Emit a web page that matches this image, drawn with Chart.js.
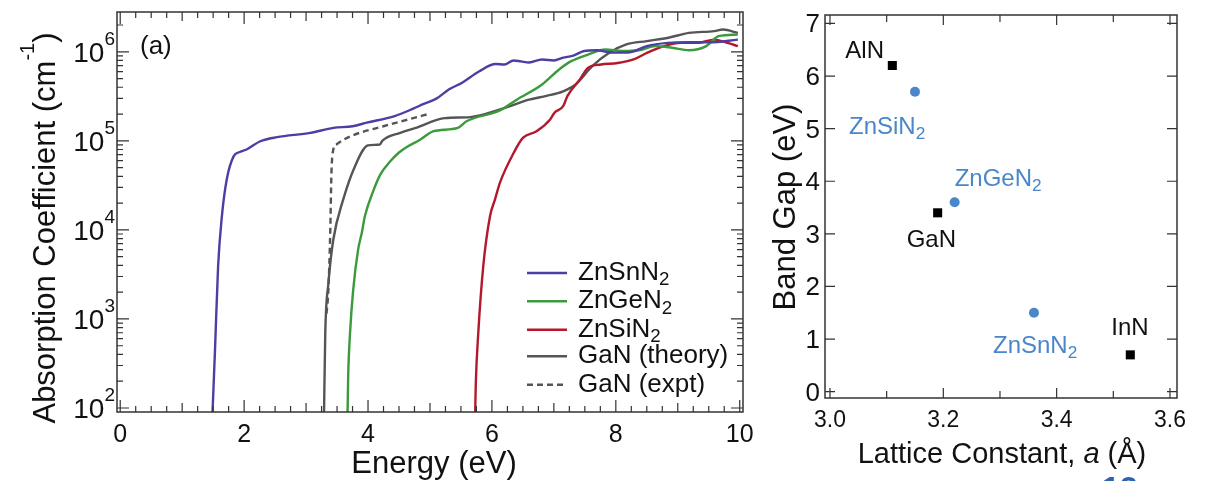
<!DOCTYPE html>
<html><head><meta charset="utf-8">
<script src="https://cdn.jsdelivr.net/npm/chart.js@4.4.1/dist/chart.umd.min.js"></script>
<style>
html,body{margin:0;padding:0;background:#fff;}
#wrap{position:relative;width:1205px;height:481px;overflow:hidden;background:#fff;}
#c1{position:absolute;left:0;top:0;}
#c2{position:absolute;left:760px;top:0;}
</style></head><body>
<div id="wrap"><canvas id="c1" width="760" height="481"></canvas><canvas id="c2" width="445" height="481"></canvas></div>
<script>
// ---------- Panel (a): absorption spectra ----------
const seriesNames = ['ZnSnN₂', 'ZnGeN₂', 'ZnSiN₂', 'GaN (theory)', 'GaN (expt)'];

const energyZnSn = [1.49,1.53,1.58,1.64,1.72,1.83,1.93,2.04,2.26,2.53,3.07,3.44,3.75,3.98,4.43,4.73,4.90,5.11,5.31,5.52,5.79,6.06,6.20,6.35,6.47,6.60,6.81,7.00,7.15,7.30,7.49,7.69,7.96,8.23,8.50,8.84,9.18,9.52,9.97];
const absZnSn    = [90,4.5e2,3.9e3,1.4e4,3.7e4,6.7e4,7.5e4,8.0e4,9.9e4,1.1e5,1.23e5,1.4e5,1.46e5,1.6e5,1.9e5,2.3e5,2.6e5,3.0e5,3.8e5,4.5e5,6.0e5,7.3e5,7.2e5,8.0e5,7.8e5,7.6e5,8.2e5,8.0e5,8.6e5,9.0e5,1.02e6,1.04e6,9.8e5,9.9e5,1.16e6,1.26e6,1.28e6,1.28e6,1.37e6];

const energyZnGe = [3.67,3.68,3.71,3.76,3.84,3.90,3.95,4.09,4.20,4.36,4.50,4.62,4.84,5.05,5.45,5.59,6.13,6.40,6.81,7.08,7.28,7.55,7.83,8.10,8.37,8.64,8.91,9.18,9.46,9.66,9.97];
const absZnGe    = [90,2.3e2,7.0e2,2.1e3,6.0e3,9.3e3,1.43e4,2.8e4,4.2e4,5.9e4,7.4e4,8.5e4,1.03e5,1.28e5,1.4e5,1.66e5,2.2e5,2.9e5,4.3e5,6.3e5,7.85e5,9.3e5,1.06e6,1.02e6,1.04e6,1.16e6,1.11e6,1.04e6,1.16e6,1.5e6,1.56e6];

const energyZnSi = [5.73,5.74,5.78,5.86,5.97,6.05,6.13,6.35,6.50,6.72,6.94,7.01,7.15,7.22,7.42,7.55,7.76,8.03,8.30,8.51,8.78,9.05,9.32,9.59,9.80,9.97];
const absZnSi    = [90,1.9e2,7.0e2,3.9e3,1.43e4,2.2e4,3.4e4,7.3e4,1.08e5,1.28e5,1.74e5,2.07e5,2.45e5,3.2e5,4.9e5,6.6e5,7.2e5,7.5e5,8.3e5,9.8e5,1.16e6,1.26e6,1.26e6,1.37e6,1.26e6,1.16e6];

const energyGaNth = [3.29,3.31,3.36,3.44,3.60,3.79,4.00,4.19,4.23,4.52,4.77,5.24,5.65,6.13,6.60,6.88,7.15,7.35,7.62,7.90,8.17,8.50,8.85,9.18,9.59,9.73,9.97];
const absGaNth    = [90,7.0e2,2.5e3,7.8e3,2.2e4,5.2e4,8.9e4,9.1e4,1.0e5,1.23e5,1.4e5,1.8e5,1.85e5,2.25e5,2.9e5,3.2e5,3.6e5,4.3e5,6.9e5,9.8e5,1.21e6,1.32e6,1.44e6,1.63e6,1.71e6,1.78e6,1.63e6];

const energyGaNex = [3.33,3.36,3.39,3.41,3.44,3.49,3.71,4.25,4.73,4.95];
const absGaNex    = [1.15e3,2.1e3,9.3e3,4.4e4,8.0e4,9.1e4,1.12e5,1.46e5,1.8e5,1.98e5];

const energyTicks = [0,2,4,6,8,10];
const absDecades = [2,3,4,5,6];

// ---------- Panel (b): band gap vs lattice constant ----------
const nitrideNames = ['AlN','GaN','InN'];
const nitrideLattice = [3.11,3.19,3.53];
const nitrideGap = [6.2,3.4,0.7];
const zincNames = ['ZnSiN₂','ZnGeN₂','ZnSnN₂'];
const zincLattice = [3.15,3.22,3.36];
const zincGap = [5.7,3.6,1.5];
const latticeTicks = [3.0,3.2,3.4,3.6];
const gapTicks = [0,1,2,3,4,5,6,7];

// ---------- styles ----------
const FONT = '"Liberation Sans", Arial, Helvetica, sans-serif';
const font = (s, st) => (st ? st + ' ' : '') + s + 'px ' + FONT;
const lineColors = ['#4a3fa2', '#3a9a3c', '#b3192c', '#555555', '#555555'];
const blueLabel = '#4a87c9';
const frameColor = '#333333';
const nitrideLabelOffsets = [[-47,-8],[-31,34],[-19,-20]];
const zincLabelOffsets = [[-66,42],[0,-16],[-41,40]];

function drawRich(ctx, text, x, y, size, color, align) {
  const segs = []; let cur = '';
  for (const ch of text) {
    if (ch === '₂') { if (cur) segs.push({t: cur, sub: false}); segs.push({t: '2', sub: true}); cur = ''; }
    else cur += ch;
  }
  if (cur) segs.push({t: cur, sub: false});
  ctx.fillStyle = color; ctx.textAlign = 'left'; ctx.textBaseline = 'alphabetic';
  const widths = segs.map(s => { ctx.font = font(s.sub ? size * 0.72 : size); return ctx.measureText(s.t).width; });
  const total = widths.reduce((a, b) => a + b, 0);
  let cx = align === 'center' ? x - total / 2 : x;
  segs.forEach((s, i) => {
    ctx.font = font(s.sub ? size * 0.72 : size);
    ctx.fillText(s.t, cx, y + (s.sub ? size * 0.2 : 0));
    cx += widths[i];
  });
}

function pts(xs, ys) { return xs.map((x, i) => ({x: x, y: ys[i]})); }

const seriesData = [
  pts(energyZnSn, absZnSn), pts(energyZnGe, absZnGe), pts(energyZnSi, absZnSi),
  pts(energyGaNth, absGaNth), pts(energyGaNex, absGaNex)
];

const leftPlugin = {
  id: 'leftDecor',
  afterDraw(chart) {
    const ctx = chart.ctx, a = chart.chartArea, xs = chart.scales.x, ys = chart.scales.y;
    ctx.save();
    ctx.strokeStyle = frameColor; ctx.lineWidth = 1.5;
    ctx.strokeRect(a.left, a.top, a.right - a.left, a.bottom - a.top);
    ctx.lineWidth = 1.2;
    ctx.beginPath();
    for (let i = 0; i <= 40; i++) {
      const v = i * 0.25;
      const px = xs.getPixelForValue(v);
      const len = (i % 8 === 0) ? 12 : (i % 4 === 0 ? 9 : 6);
      ctx.moveTo(px, a.bottom); ctx.lineTo(px, a.bottom - len);
      ctx.moveTo(px, a.top); ctx.lineTo(px, a.top + len);
    }
    for (let d = 1; d <= 6; d++) {
      for (let m = 1; m <= 9; m++) {
        const v = m * Math.pow(10, d);
        if (v < ys.min || v > ys.max) continue;
        const py = ys.getPixelForValue(v);
        const len = m === 1 ? 12 : 6;
        ctx.moveTo(a.left, py); ctx.lineTo(a.left + len, py);
        ctx.moveTo(a.right, py); ctx.lineTo(a.right - len, py);
      }
    }
    ctx.stroke();
    // x tick labels
    ctx.fillStyle = '#111'; ctx.font = font(25); ctx.textAlign = 'center'; ctx.textBaseline = 'alphabetic';
    energyTicks.forEach(v => ctx.fillText(String(v), xs.getPixelForValue(v), 442));
    // y tick labels 10^n
    absDecades.forEach(d => {
      const py = ys.getPixelForValue(Math.pow(10, d));
      ctx.font = font(19); const ew = ctx.measureText(String(d)).width;
      ctx.textAlign = 'left';
      ctx.fillText(String(d), 115 - ew, py - 7);
      ctx.font = font(28); ctx.textAlign = 'right';
      ctx.fillText('10', 115 - ew, py + 10);
    });
    // axis titles
    ctx.font = font(31); ctx.textAlign = 'center';
    ctx.fillText('Energy (eV)', 434, 473);
    ctx.save();
    ctx.translate(55, 228); ctx.rotate(-Math.PI / 2);
    const p1 = 'Absorption Coefficient (cm', p2 = '-1', p3 = ')';
    ctx.font = font(31); const w1 = ctx.measureText(p1).width, w3 = ctx.measureText(p3).width;
    ctx.font = font(20); const w2 = ctx.measureText(p2).width;
    let sx = -(w1 + w2 + w3) / 2;
    ctx.textAlign = 'left';
    ctx.font = font(31); ctx.fillText(p1, sx, 0); sx += w1;
    ctx.font = font(20); ctx.fillText(p2, sx, -21); sx += w2;
    ctx.font = font(31); ctx.fillText(p3, sx, 0);
    ctx.restore();
    // panel label
    ctx.font = font(26); ctx.textAlign = 'left';
    ctx.fillText('(a)', 140, 54);
    // legend
    const base = [280, 308.3, 336.7, 363.3, 391.7];
    chart.data.datasets.forEach((ds, i) => {
      ctx.strokeStyle = ds.borderColor; ctx.lineWidth = 2.5;
      ctx.setLineDash(ds.borderDash || []);
      ctx.beginPath(); ctx.moveTo(527, base[i] - 7); ctx.lineTo(567, base[i] - 7); ctx.stroke();
      ctx.setLineDash([]);
      drawRich(ctx, ds.label, 578, base[i], 26, '#111', 'left');
    });
    ctx.restore();
  }
};

new Chart(document.getElementById('c1'), {
  type: 'scatter',
  data: {
    datasets: seriesData.map((d, i) => ({
      label: seriesNames[i], data: d, showLine: true, borderColor: lineColors[i],
      backgroundColor: lineColors[i], borderWidth: 2.4, pointRadius: 0,
      borderDash: i === 4 ? [6, 4] : [], cubicInterpolationMode: 'monotone'
    }))
  },
  options: {
    responsive: false, animation: false,
    layout: {padding: {left: 117, top: 12, right: 17, bottom: 69}},
    plugins: {legend: {display: false}, tooltip: {enabled: false}},
    scales: {
      x: {type: 'linear', min: -0.052, max: 10.053, display: false},
      y: {type: 'logarithmic', min: 90.2, max: 2.8e6, display: false}
    }
  },
  plugins: [leftPlugin]
});

const rightPlugin = {
  id: 'rightDecor',
  afterDraw(chart) {
    const ctx = chart.ctx, a = chart.chartArea, xs = chart.scales.x, ys = chart.scales.y;
    ctx.save();
    ctx.strokeStyle = frameColor; ctx.lineWidth = 1.5;
    ctx.strokeRect(a.left, a.top, a.right - a.left, a.bottom - a.top);
    ctx.lineWidth = 1.2; ctx.beginPath();
    gapTicks.forEach(v => {
      const py = ys.getPixelForValue(v);
      ctx.moveTo(a.left, py); ctx.lineTo(a.left + 10, py);
      ctx.moveTo(a.right, py); ctx.lineTo(a.right - 10, py);
    });
    for (let i = 0; i <= 6; i++) {
      const v = 3.0 + i * 0.1; const px = xs.getPixelForValue(v);
      const len = i % 2 === 0 ? 10 : 7;
      ctx.moveTo(px, a.bottom); ctx.lineTo(px, a.bottom - len);
      ctx.moveTo(px, a.top); ctx.lineTo(px, a.top + len);
    }
    ctx.stroke();
    ctx.fillStyle = '#111'; ctx.textBaseline = 'alphabetic';
    ctx.font = font(26); ctx.textAlign = 'right';
    gapTicks.forEach(v => ctx.fillText(String(v), a.left - 5, ys.getPixelForValue(v) + 9));
    ctx.font = font(23); ctx.textAlign = 'center';
    latticeTicks.forEach(v => ctx.fillText(v.toFixed(1), xs.getPixelForValue(v), 427));
    // x title with italic a
    const t1 = 'Lattice Constant, ', t2 = 'a', t3 = ' (Å)';
    ctx.font = font(29); const w1 = ctx.measureText(t1).width, w3 = ctx.measureText(t3).width;
    ctx.font = font(29, 'italic'); const w2 = ctx.measureText(t2).width;
    let sx = (a.left + a.right) / 2 + 1 - (w1 + w2 + w3) / 2;
    ctx.textAlign = 'left';
    ctx.font = font(29); ctx.fillText(t1, sx, 463); sx += w1;
    ctx.font = font(29, 'italic'); ctx.fillText(t2, sx, 463); sx += w2;
    ctx.font = font(29); ctx.fillText(t3, sx, 463);
    // y title
    ctx.save(); ctx.translate(35, 207); ctx.rotate(-Math.PI / 2);
    ctx.font = font(31); ctx.textAlign = 'center'; ctx.fillText('Band Gap (eV)', 0, 0);
    ctx.restore();
    // point labels
    nitrideNames.forEach((n, i) => {
      const px = xs.getPixelForValue(nitrideLattice[i]), py = ys.getPixelForValue(nitrideGap[i]);
      drawRich(ctx, n, px + nitrideLabelOffsets[i][0], py + nitrideLabelOffsets[i][1], 24, '#111', 'left');
    });
    zincNames.forEach((n, i) => {
      const px = xs.getPixelForValue(zincLattice[i]), py = ys.getPixelForValue(zincGap[i]);
      drawRich(ctx, n, px + zincLabelOffsets[i][0], py + zincLabelOffsets[i][1], 24, blueLabel, 'left');
    });
    // slide number (cut off at the bottom edge)
    ctx.font = font(32, 'bold'); ctx.fillStyle = '#2a64b0'; ctx.textAlign = 'left';
    ctx.fillText('12', 342, 499);
    ctx.restore();
  }
};

new Chart(document.getElementById('c2'), {
  type: 'scatter',
  data: {
    datasets: [
      {label: 'III-nitrides', data: pts(nitrideLattice, nitrideGap), pointStyle: 'rect', pointRadius: 6.4,
       backgroundColor: '#000', borderColor: '#000', borderWidth: 0},
      {label: 'Zn-IV-nitrides', data: pts(zincLattice, zincGap), pointStyle: 'circle', pointRadius: 5,
       backgroundColor: blueLabel, borderColor: blueLabel, borderWidth: 0}
    ]
  },
  options: {
    responsive: false, animation: false,
    layout: {padding: {left: 65, top: 15, right: 28, bottom: 83}},
    plugins: {legend: {display: false}, tooltip: {enabled: false}},
    scales: {
      x: {type: 'linear', min: 2.9912, max: 3.6124, display: false},
      y: {type: 'linear', min: -0.12, max: 7.16, display: false}
    }
  },
  plugins: [rightPlugin]
});
</script>
</body></html>
